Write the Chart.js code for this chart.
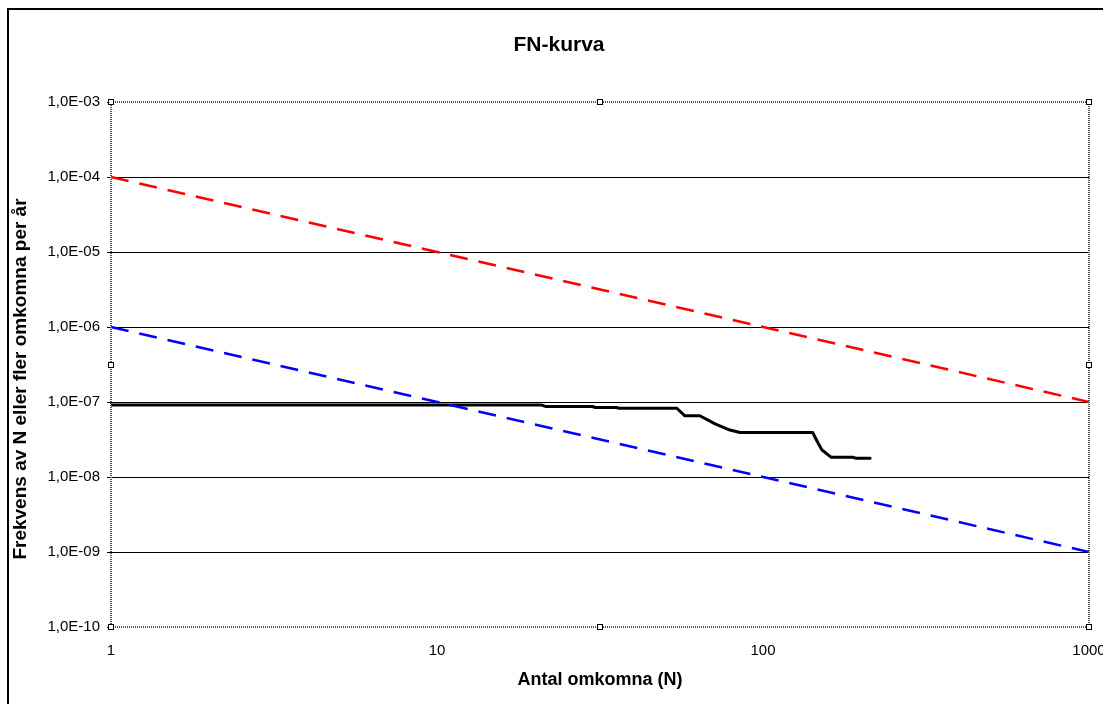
<!DOCTYPE html>
<html><head><meta charset="utf-8">
<script src="https://cdn.jsdelivr.net/npm/chart.js@4/dist/chart.umd.min.js"></script>
<style>html,body{margin:0;padding:0;background:#fff;overflow:hidden}#wrap{width:1103px;height:704px;position:relative}</style>
</head><body><div id="wrap"><canvas id="c" width="1103" height="704"></canvas></div>
<script>
const chartTitle = 'FN-kurva';
const xAxisTitle = 'Antal omkomna (N)';
const yAxisTitle = 'Frekvens av N eller fler omkomna per år';
const xTickValues = [1, 10, 100, 1000];
const xTickLabels = ['1', '10', '100', '1000'];
const yTickValues = [1e-10, 1e-9, 1e-8, 1e-7, 1e-6, 1e-5, 1e-4, 1e-3];
const yTickLabels = ['1,0E-10', '1,0E-09', '1,0E-08', '1,0E-07', '1,0E-06', '1,0E-05', '1,0E-04', '1,0E-03'];
// FN curve (black)
const fnN = [1, 21, 21.6, 30, 30.6, 35.5, 36.2, 54.4, 57.6, 64, 71.3, 79.2, 85, 142, 147.5, 151.7, 162, 189, 193, 213];
const fnF = [9.1e-8, 9.1e-8, 8.7e-8, 8.7e-8, 8.45e-8, 8.45e-8, 8.25e-8, 8.25e-8, 6.55e-8, 6.55e-8, 5.1e-8, 4.23e-8, 3.92e-8, 3.92e-8, 2.84e-8, 2.29e-8, 1.83e-8, 1.83e-8, 1.78e-8, 1.78e-8];
// Upper limit (red dashed)
const upperN = [1, 1000];
const upperF = [1e-4, 1e-7];
// Lower limit (blue dashed)
const lowerN = [1, 1000];
const lowerF = [1e-6, 1e-9];

const toXY = (xs, ys) => xs.map((x, i) => ({x: x, y: ys[i]}));
const FONT = 'Arial, "Liberation Sans", sans-serif';

const decor = {
  id: 'decor',
  beforeDraw(chart) {
    const c = chart.ctx;
    c.save();
    c.fillStyle = '#fff';
    c.fillRect(0, 0, chart.width, chart.height);
    c.fillStyle = '#000';
    c.fillRect(7, 8, 2, chart.height);
    c.fillRect(7, 8, chart.width, 2);
    c.restore();
  },
  afterDraw(chart) {
    const c = chart.ctx;
    const a = chart.chartArea;
    c.save();
    c.strokeStyle = '#555';
    c.lineWidth = 2;
    c.setLineDash([1, 1]);
    c.strokeRect(a.left, a.top, a.right - a.left, a.bottom - a.top);
    c.setLineDash([]);
    c.lineWidth = 1;
    c.strokeStyle = '#000';
    c.fillStyle = '#fff';
    const mx = (a.left + a.right) / 2, my = (a.top + a.bottom) / 2;
    [[a.left, a.top], [mx, a.top], [a.right, a.top], [a.left, my], [a.right, my], [a.left, a.bottom], [mx, a.bottom], [a.right, a.bottom]].forEach(p => {
      c.fillRect(Math.round(p[0]) - 2, Math.round(p[1]) - 2, 4, 4);
      c.strokeRect(Math.round(p[0]) - 2.5, Math.round(p[1]) - 2.5, 5, 5);
    });
    // y axis title
    c.translate(25.6, 379);
    c.rotate(-Math.PI / 2);
    c.fillStyle = '#000';
    c.font = 'bold 19px ' + FONT;
    c.textAlign = 'center';
    c.textBaseline = 'alphabetic';
    c.fillText(yAxisTitle, 0, 0);
    c.restore();
  }
};

new Chart(document.getElementById('c'), {
  type: 'line',
  data: {
    datasets: [
      {data: toXY(upperN, upperF), borderColor: '#ff0000', borderWidth: 2.5, borderDash: [18, 11], pointRadius: 0, fill: false, tension: 0},
      {data: toXY(lowerN, lowerF), borderColor: '#0000ff', borderWidth: 2.5, borderDash: [18, 11], pointRadius: 0, fill: false, tension: 0},
      {data: toXY(fnN, fnF), borderColor: '#000000', borderWidth: 3, borderJoinStyle: 'round', borderCapStyle: 'round', pointRadius: 0, fill: false, tension: 0}
    ]
  },
  options: {
    responsive: false,
    animation: false,
    devicePixelRatio: 1,
    layout: {padding: {left: 29, right: 14, top: 0, bottom: 0}},
    plugins: {
      legend: {display: false},
      tooltip: {enabled: false},
      title: {display: true, text: chartTitle, color: '#000', font: {family: FONT, size: 21, weight: 'bold'}, padding: {top: 33, bottom: 43.8}}
    },
    scales: {
      x: {
        type: 'logarithmic', min: 1, max: 1000,
        afterBuildTicks: s => { s.ticks = xTickValues.map(v => ({value: v})); },
        afterFit: s => { s.paddingRight = 0; s.paddingLeft = 0; s.height = 77; },
        grid: {display: false, drawTicks: true, tickLength: 8},
        border: {display: false},
        ticks: {padding: 7, color: '#000', font: {family: FONT, size: 15}, maxRotation: 0, autoSkip: false,
          callback: (v, i) => xTickLabels[i]},
        title: {display: true, text: xAxisTitle, color: '#000', font: {family: FONT, size: 18, weight: 'bold'}, padding: {top: 9, bottom: 13}}
      },
      y: {
        type: 'logarithmic', min: 1e-10, max: 1e-3,
        afterBuildTicks: s => { s.ticks = yTickValues.map(v => ({value: v})); },
        afterFit: s => { s.width = 82; },
        grid: {
          color: ctx => (ctx.index === 0 || ctx.index === yTickValues.length - 1) ? 'rgba(0,0,0,0)' : '#000',
          tickColor: '#000', lineWidth: 1, drawTicks: true, tickLength: 4
        },
        border: {display: false},
        ticks: {padding: 7, color: '#000', font: {family: FONT, size: 15}, autoSkip: false,
          callback: (v, i) => yTickLabels[i]}
      }
    }
  },
  plugins: [decor]
});
</script>
</body></html>
